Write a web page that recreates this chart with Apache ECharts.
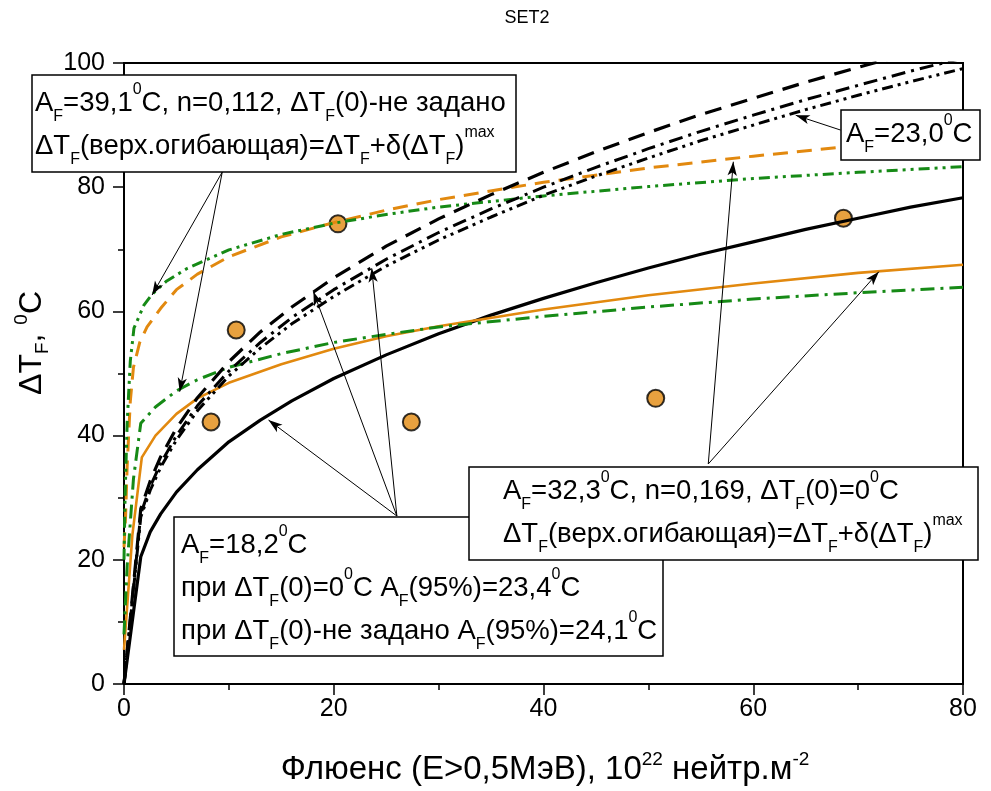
<!DOCTYPE html>
<html>
<head>
<meta charset="utf-8">
<script src="https://cdn.jsdelivr.net/npm/echarts@6/dist/echarts.min.js"></script>
<style>html,body{margin:0;padding:0;background:#fff}#c{width:991px;height:791px}</style>
</head>
<body>
<div id="c"></div>
<script>
// ---- data ----
const xTicks = [0, 20, 40, 60, 80];
const yTicks = [0, 20, 40, 60, 80, 100];

const fluenceBlack = [0, 1.6, 2.5, 3.5, 5, 7, 10, 13, 16, 20, 25, 30, 35, 40, 45, 50, 55, 60, 65, 70, 75, 80];
const blackSolid   = [0, 20.5, 24.5, 27.4, 30.9, 34.5, 39.0, 42.5, 45.6, 49.2, 53.0, 56.4, 59.4, 62.1, 64.6, 67.0, 69.2, 71.2, 73.2, 75.0, 76.8, 78.3];
const blackDash    = [0, 28.2, 32.7, 36.6, 41.2, 46.1, 51.9, 56.7, 60.7, 65.4, 70.5, 74.9, 78.8, 82.4, 85.7, 88.8, 91.7, 94.3, 96.9, 99.3, 101.6, 103.8];
const blackDashDot = [0, 27.4, 31.8, 35.5, 40.0, 44.8, 50.4, 55.0, 59.0, 63.5, 68.4, 72.7, 76.5, 80.0, 83.2, 86.2, 89.0, 91.6, 94.1, 96.4, 98.7, 100.8];
const blackDashDotDot = [0, 26.9, 31.2, 34.9, 39.3, 44.0, 49.6, 54.1, 58.0, 62.4, 67.3, 71.5, 75.2, 78.7, 81.8, 84.7, 87.5, 90.0, 92.5, 94.8, 97.0, 99.1];

const fluenceOrange = [0, 0.8, 1.7, 3, 5, 7, 10, 15, 20, 25, 30, 40, 50, 60, 70, 80];
const orangeSolid   = [5.5, 24, 36.5, 40, 43.5, 46, 48.5, 51.5, 54, 56, 57.6, 60.3, 62.6, 64.5, 66.2, 67.5];

const fluenceOrangeUp = [0, 0.15, 0.3, 0.6, 0.9, 1.5, 2.2, 3.5, 5, 7, 10, 15, 20, 25, 30, 40, 50, 60, 70, 80];
const orangeDash      = [22, 27, 35, 45.5, 51, 55, 57.5, 60.5, 63.5, 66, 68.8, 72, 74.3, 76.3, 78, 80.8, 83.1, 85, 86.7, 88.1];

const fluenceGreen = [0, 0.3, 0.9, 1.6, 3, 5, 7, 10, 15, 20, 25, 30, 40, 50, 60, 70, 80];
const greenDashDot = [8, 19, 33, 42, 44.6, 47.2, 49, 51, 53.2, 55, 56.3, 57.5, 59.2, 60.7, 62, 63, 63.9];

const fluenceGreenUp = [0, 0.1, 0.3, 0.6, 0.95, 1.9, 2.7, 4, 6, 8, 10, 15, 20, 25, 30, 40, 50, 60, 70, 80];
const greenDashDotDot = [20, 30, 42, 52, 57.3, 61, 62.8, 64.8, 66.9, 68.4, 69.9, 72.4, 74.2, 75.6, 76.8, 78.6, 80.1, 81.4, 82.4, 83.3];

const pointsX = [8.3, 10.7, 20.4, 27.4, 50.7, 68.6];
const pointsY = [42.2, 57.0, 74.1, 42.2, 46.0, 75.0];

// annotation arrows (tail -> head), in data units
const arrowTails = [[9.37, 82.45], [9.37, 82.45], [68.33, 89.2], [55.71, 35.43], [55.71, 35.43], [26.02, 27.05], [26.02, 27.05], [26.02, 27.05]];
const arrowHeads = [[2.68, 62.64], [5.31, 47.07], [64.05, 91.58], [58.1, 84.1], [71.98, 66.4], [13.78, 42.5], [18.06, 63.17], [23.62, 66.94]];

// ---- build ----
const zip = (xs, ys) => xs.map((x, i) => [x, ys[i]]);
const SANS = "'Liberation Sans',Arial,sans-serif";
const ORANGE = '#E2890F';
const GREEN = '#168A16';

function lineSeries(name, xs, ys, color, width, dash) {
  return {
    name, type: 'line', data: zip(xs, ys), showSymbol: false, symbol: 'none',
    clip: true, z: 3,
    lineStyle: { color, width, type: dash || 'solid', cap: 'butt' }
  };
}

const chart = echarts.init(document.getElementById('c'), null, { renderer: 'canvas' });

const FS = 27.5;
const LH = 43;
const rich = (fs, lh) => ({
  n: { fontSize: fs, fontFamily: SANS, fill: '#000', lineHeight: lh },
  s: { fontSize: Math.round(fs * 0.58), fontFamily: SANS, fill: '#000', verticalAlign: 'bottom', lineHeight: Math.round(fs * 0.92) },
  p: { fontSize: Math.round(fs * 0.58), fontFamily: SANS, fill: '#000', verticalAlign: 'top', lineHeight: Math.round(fs * 1.2) }
});

function box(x, y, w, h) {
  return { type: 'rect', shape: { x, y, width: w, height: h }, style: { fill: '#fff', stroke: '#000', lineWidth: 1.5 }, z: 100 };
}
function btext(x, y, text) {
  return { type: 'text', x, y, z: 101, style: { text, rich: rich(FS, LH), fill: '#000', align: 'left', verticalAlign: 'top', font: FS + 'px ' + SANS } };
}

const t1 = '{n|A}{s|F}{n|=39,1}{p|0}{n|C, n=0,112, ΔT}{s|F}{n|(0)-не задано}\n{n|ΔT}{s|F}{n|(верх.огибающая)=ΔT}{s|F}{n|+δ(ΔT}{s|F}{n|)}{p|max}';
const t2 = '{n|A}{s|F}{n|=23,0}{p|0}{n|C}';
const t3 = '{n|A}{s|F}{n|=32,3}{p|0}{n|C, n=0,169, ΔT}{s|F}{n|(0)=0}{p|0}{n|C}\n{n|ΔT}{s|F}{n|(верх.огибающая)=ΔT}{s|F}{n|+δ(ΔT}{s|F}{n|)}{p|max}';
const t4 = '{n|A}{s|F}{n|=18,2}{p|0}{n|C}\n{n|при ΔT}{s|F}{n|(0)=0}{p|0}{n|C A}{s|F}{n|(95%)=23,4}{p|0}{n|C}\n{n|при ΔT}{s|F}{n|(0)-не задано A}{s|F}{n|(95%)=24,1}{p|0}{n|C}';

const option = {
  animation: false,
  backgroundColor: '#fff',
  grid: { left: 124, right: 28, top: 63, bottom: 107, show: true, borderColor: '#000', borderWidth: 2, backgroundColor: 'transparent' },
  xAxis: {
    type: 'value', min: xTicks[0], max: xTicks[xTicks.length - 1], interval: xTicks[1] - xTicks[0],
    axisLine: { show: true, onZero: false, lineStyle: { color: '#000', width: 2 } },
    axisTick: { show: true, inside: false, length: 11, lineStyle: { color: '#000', width: 1.5 } },
    minorTick: { show: true, splitNumber: 2, length: 6, lineStyle: { color: '#000', width: 1.5 } },
    splitLine: { show: false },
    axisLabel: { color: '#000', fontSize: 25, fontFamily: SANS, margin: 13 }
  },
  yAxis: {
    type: 'value', min: yTicks[0], max: yTicks[yTicks.length - 1], interval: yTicks[1] - yTicks[0],
    axisLine: { show: true, onZero: false, lineStyle: { color: '#000', width: 2 } },
    axisTick: { show: true, inside: false, length: 11, lineStyle: { color: '#000', width: 1.5 } },
    minorTick: { show: true, splitNumber: 2, length: 6, lineStyle: { color: '#000', width: 1.5 } },
    splitLine: { show: false },
    axisLabel: { color: '#000', fontSize: 25, fontFamily: SANS, margin: 19 }
  },
  series: [
    {
      name: 'points', type: 'scatter', data: zip(pointsX, pointsY), symbol: 'circle', symbolSize: 17, z: 2,
      itemStyle: { color: ORANGE, borderColor: '#000', borderWidth: 2 },
      markLine: {
        silent: true, symbol: ['none', 'arrow'], symbolSize: [7, 14], animation: false,
        label: { show: false },
        lineStyle: { color: '#000', width: 1, type: 'solid' },
        data: arrowTails.map((t, i) => [{ coord: t }, { coord: arrowHeads[i] }])
      }
    },
    lineSeries('black solid', fluenceBlack, blackSolid, '#000', 3.2),
    lineSeries('orange solid', fluenceOrange, orangeSolid, ORANGE, 2.6),
    lineSeries('green dash-dot', fluenceGreen, greenDashDot, GREEN, 3, [14, 6, 3, 6]),
    lineSeries('orange dash', fluenceOrangeUp, orangeDash, ORANGE, 3, [15, 9]),
    lineSeries('green dash-dot-dot', fluenceGreenUp, greenDashDotDot, GREEN, 3, [11, 5, 3, 5, 3, 5]),
    lineSeries('black dash', fluenceBlack, blackDash, '#000', 3.2, [17, 10]),
    lineSeries('black dash-dot', fluenceBlack, blackDashDot, '#000', 3, [14, 6, 3, 6]),
    lineSeries('black dash-dot-dot', fluenceBlack, blackDashDotDot, '#000', 3, [11, 5, 3, 5, 3, 5])
  ],
  graphic: [
    { type: 'text', x: 527, y: 18, z: 101, style: { text: 'SET2', fill: '#000', font: '18px ' + SANS, align: 'center', verticalAlign: 'middle' } },
    { type: 'text', x: 545, y: 770, z: 101, style: { text: '{n|Флюенс (E>0,5МэВ), 10}{p|22}{n| нейтр.м}{p|-2}', rich: rich(33, 40), fill: '#000', align: 'center', verticalAlign: 'middle', font: '33px ' + SANS } },
    { type: 'text', x: 32, y: 343, rotation: Math.PI / 2, z: 101, style: { text: '{n|ΔT}{s|F}{n|, }{p|0}{n|C}', rich: rich(32, 40), fill: '#000', align: 'center', verticalAlign: 'middle', font: '32px ' + SANS } },
    box(32, 75, 484, 97),
    btext(35, 82, t1),
    box(841, 110, 139, 50),
    btext(846, 113, t2),
    box(174, 517, 489, 139),
    btext(181, 524, t4),
    box(469, 467, 509, 93),
    btext(503, 470, t3)
  ]
};
chart.setOption(option);
</script>
</body>
</html>
